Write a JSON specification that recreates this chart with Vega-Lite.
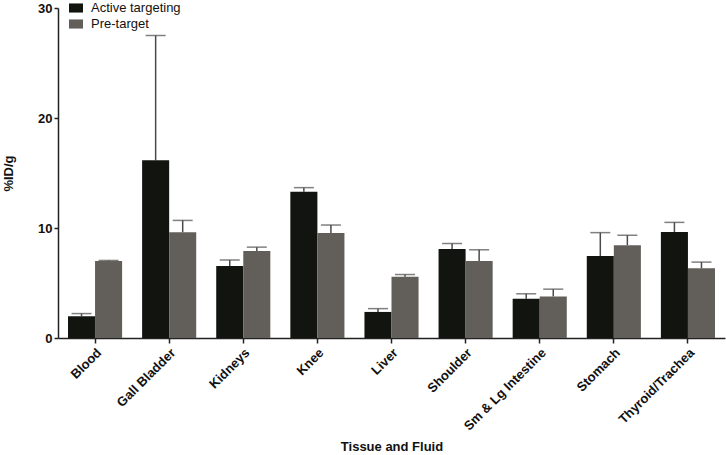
{
  "$schema": "https://vega.github.io/schema/vega-lite/v6.json",
  "width": 667,
  "height": 330,
  "autosize": {"type": "none"},
  "padding": {"left": 58, "top": 8, "right": 1, "bottom": 117},
  "background": "white",
  "config": {
    "view": {"stroke": null},
    "font": "Liberation Sans",
    "axis": {"grid": false, "domainColor": "#222", "tickColor": "#222", "domainWidth": 1.5, "tickWidth": 1.5, "labelColor": "#111", "titleColor": "#111", "labelFontWeight": "bold", "titleFontWeight": "bold", "labelFontSize": 13, "titleFontSize": 13}
  },
  "data": {
    "values": [
      {"tissue": "Blood", "group": "Active targeting", "value": 1.98, "upper": 2.22},
      {"tissue": "Blood", "group": "Pre-target", "value": 7.0, "upper": 7.05},
      {"tissue": "Gall Bladder", "group": "Active targeting", "value": 16.15, "upper": 27.5},
      {"tissue": "Gall Bladder", "group": "Pre-target", "value": 9.61, "upper": 10.69},
      {"tissue": "Kidneys", "group": "Active targeting", "value": 6.55, "upper": 7.09},
      {"tissue": "Kidneys", "group": "Pre-target", "value": 7.9, "upper": 8.26},
      {"tissue": "Knee", "group": "Active targeting", "value": 13.3, "upper": 13.67},
      {"tissue": "Knee", "group": "Pre-target", "value": 9.55, "upper": 10.27},
      {"tissue": "Liver", "group": "Active targeting", "value": 2.37, "upper": 2.67},
      {"tissue": "Liver", "group": "Pre-target", "value": 5.56, "upper": 5.77},
      {"tissue": "Shoulder", "group": "Active targeting", "value": 8.08, "upper": 8.59},
      {"tissue": "Shoulder", "group": "Pre-target", "value": 7.0, "upper": 8.02},
      {"tissue": "Sm & Lg Intestine", "group": "Active targeting", "value": 3.57, "upper": 4.02},
      {"tissue": "Sm & Lg Intestine", "group": "Pre-target", "value": 3.78, "upper": 4.44},
      {"tissue": "Stomach", "group": "Active targeting", "value": 7.45, "upper": 9.58},
      {"tissue": "Stomach", "group": "Pre-target", "value": 8.44, "upper": 9.34},
      {"tissue": "Thyroid/Trachea", "group": "Active targeting", "value": 9.64, "upper": 10.51},
      {"tissue": "Thyroid/Trachea", "group": "Pre-target", "value": 6.33, "upper": 6.9}
    ]
  },
  "encoding": {
    "x": {
      "field": "tissue", "type": "nominal", "sort": null,
      "scale": {"paddingInner": 0.27, "paddingOuter": 0.135},
      "axis": {"labelAngle": -45, "title": "Tissue and Fluid", "titleY": 102, "titleBaseline": "top", "tickSize": 5, "labelPadding": 3}
    },
    "xOffset": {"field": "group", "type": "nominal", "scale": {"paddingInner": 0, "paddingOuter": 0}}
  },
  "layer": [
    {
      "mark": {"type": "rule", "color": "#4a4a4a", "strokeWidth": 1.5},
      "encoding": {
        "y": {"field": "value", "type": "quantitative"},
        "y2": {"field": "upper"}
      }
    },
    {
      "mark": {"type": "tick", "color": "#4a4a4a", "thickness": 1.5, "size": 20},
      "encoding": {
        "y": {"field": "upper", "type": "quantitative"}
      }
    },
    {
      "mark": {"type": "bar"},
      "encoding": {
        "y": {
          "field": "value", "type": "quantitative",
          "scale": {"domain": [0, 30], "nice": false},
          "axis": {"values": [0, 10, 20, 30], "title": "%ID/g", "titleX": -50, "titleBaseline": "middle", "tickSize": 4, "labelPadding": 2}
        },
        "color": {
          "field": "group", "type": "nominal",
          "scale": {"domain": ["Active targeting", "Pre-target"], "range": ["#12140f", "#625f5a"]},
          "legend": {
            "title": null, "orient": "none", "legendX": 11, "legendY": -7,
            "symbolType": "M-1,-0.65H1V0.65H-1Z", "symbolSize": 196, "symbolStrokeWidth": 0,
            "labelFontSize": 13, "labelFont": "Liberation Sans", "labelColor": "#111", "labelOffset": 8, "rowPadding": 2
          }
        }
      }
    }
  ]
}
